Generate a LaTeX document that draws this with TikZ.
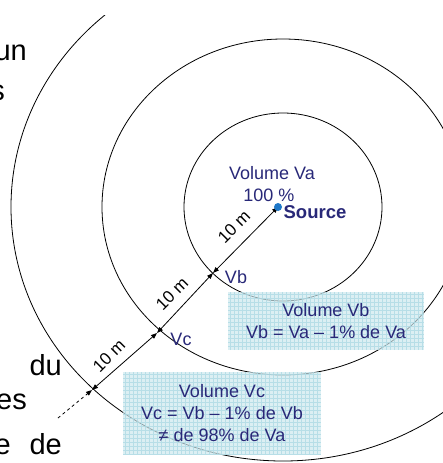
\documentclass[tikz,border=0pt]{standalone}
\usepackage{fontspec}
\setmainfont{Liberation Sans}
\usetikzlibrary{arrows.meta}
\definecolor{navy}{RGB}{40,40,120}
\definecolor{dotblue}{RGB}{30,120,200}
\definecolor{boxfill}{RGB}{205,232,238}
\definecolor{gridc}{RGB}{175,218,228}
\begin{document}
\begin{tikzpicture}[x=1pt,y=-1pt,
  ring/.style={draw=black,line width=0.8pt},
  dim/.style={line width=0.8pt,{Triangle[length=6pt,width=4.5pt]}-{Triangle[length=6pt,width=4.5pt]}},
  lbl/.style={text=navy,font=\fontsize{18}{22}\selectfont,inner sep=0pt},
  meter/.style={font=\fontsize{17}{19}\selectfont,rotate=45,inner sep=0pt},
  frag/.style={font=\fontsize{29}{34}\selectfont,inner sep=0pt,anchor=base east},
  infobox/.style={fill=boxfill,fill opacity=0.7,text opacity=1,text=navy,align=center,
    font=\fontsize{18}{22}\selectfont,inner sep=0pt,
    path picture={\draw[gridc,draw opacity=0.8,line width=0.4pt,step=4pt]
      (path picture bounding box.south west) grid (path picture bounding box.north east);}}
]
\useasboundingbox (0,0) rectangle (443,463);
\coordinate (E) at (283,207);
\begin{scope}
\clip (0,15) rectangle (443,463);
\draw[ring] (E) ellipse [x radius=99pt, y radius=94pt];
\draw[ring] (E) ellipse [x radius=181pt, y radius=168pt];
\draw[ring] (E) ellipse [x radius=272pt, y radius=254pt];
\end{scope}
% points
\coordinate (S) at (278,207);
\coordinate (B) at (213,273);
\coordinate (C) at (157,333);
\coordinate (O) at (92,390);
\coordinate (D) at (58,418);
\draw[dim] (B) -- (S);
\draw[dim] (C) -- (B);
\draw[dim] (O) -- (C);
\draw[line width=0.8pt,dashed,-{Triangle[length=6pt,width=4.5pt]}] (D) -- (O);
\fill[dotblue] (S) circle (4pt);
% labels
\node[lbl] (va) at (272,173) {Volume Va};
\node[lbl] (pc) at (269,195) {100 \%};
\node[lbl,font=\fontsize{18.5}{22}\selectfont\bfseries] (src) at (315,212) {Source};
\node[lbl] (vb) at (236,277) {Vb};
\node[lbl] (vc) at (181,339) {Vc};
\node[meter] (m1) at (234,227) {10 m};
\node[meter] (m2) at (172,294) {10 m};
\node[meter] (m3) at (109,356) {10 m};
% boxes
\node[infobox,minimum width=196pt,minimum height=58pt] (boxb) at (326,321)
  {Volume Vb\\Vb = Va – 1\% de Va};
\node[infobox,minimum width=198pt,minimum height=83pt] (boxc) at (222,413.5)
  {Volume Vc\\Vc = Vb – 1\% de Vb\\≠ de 98\% de Va};
% cut-off text fragments at left
\node[frag] (f1) at (27,60) {un};
\node[frag] (f2) at (5,100) {s};
\node[frag] (f3) at (62,375) {du};
\node[frag] (f4) at (27,409) {es};
\node[frag] (f5) at (11,454) {e};
\node[frag] (f6) at (62,454) {de};
\end{tikzpicture}
\end{document}
